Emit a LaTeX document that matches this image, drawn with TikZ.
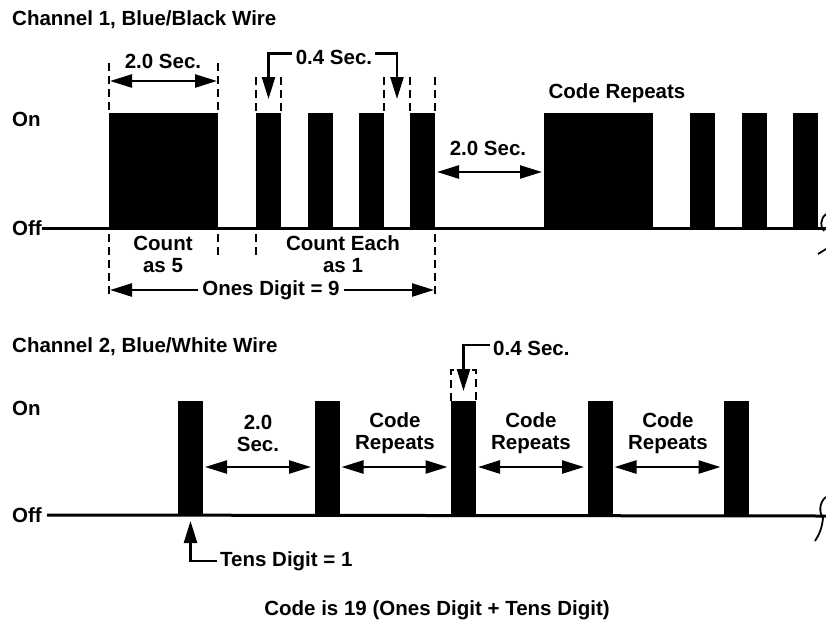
\documentclass[tikz,border=0pt]{standalone}
\usepackage{fontspec}
\setmainfont{Liberation Sans}
\usetikzlibrary{arrows.meta,positioning}

\newcommand{\lblfont}{\fontsize{20.5}{22}\selectfont\bfseries}

\begin{document}
\begin{tikzpicture}[x=1pt, y=-1pt,
  lbl/.style={font=\lblfont, inner sep=0pt, align=center},
  dim/.style={line width=2.4pt, {Triangle[length=22pt,width=13pt]}-{Triangle[length=22pt,width=13pt]}},
  ptr/.style={line width=2.4pt, -{Triangle[length=22pt,width=13pt]}},
  guide/.style={line width=2pt, dash pattern=on 8pt off 5pt},
  wire/.style={line width=3pt},
  brk/.style={line width=1.8pt}]
  \useasboundingbox (0,0) rectangle (826,622);

  %% Channel 1 titles and levels
  \node[lbl, anchor=west] (ch1) at (12,20) {Channel 1, Blue/Black Wire};
  \node[lbl, anchor=west] (on1) at (12,119) {On};
  \node[lbl, anchor=west] (off1) at (12,228) {Off};
  \coordinate (end1) at (826,228);
  \draw[wire] (off1.east) -- (end1);

  %% Channel 1 pulses (long = 5, short = 1 each)
  \fill (109,113) rectangle (218,228);
  \foreach \x in {256,307.5,359,410} {
    \fill (\x,113) rectangle ++(25,115);
  }
  \fill (544,113) rectangle (653,228);
  \foreach \x in {690,742,793} {
    \fill (\x,113) rectangle ++(25,115);
  }

  %% Dashed guides
  \foreach \x in {109,218} {
    \draw[guide] (\x,63) -- (\x,113);
  }
  \foreach \x in {256,281,384,410,435} {
    \draw[guide] (\x,77) -- (\x,113);
  }
  \foreach \x/\y in {109/298,218/258,256/258,435/298} {
    \draw[guide] (\x,234) -- (\x,\y);
  }

  %% 2.0 Sec. over the long pulse
  \node[lbl] (sec20a) at (163,61) {2.0 Sec.};
  \coordinate (l20a) at (110,81);
  \coordinate (r20a) at (217,81);
  \draw[dim] (l20a) -- (r20a);

  %% 0.4 Sec. bracket
  \node[lbl] (sec04a) at (334,57) {0.4 Sec.};
  \coordinate (tipa) at (268.5,99);
  \coordinate (tipb) at (397,99);
  \draw[ptr] ([xshift=-4pt,yshift=3.5pt]sec04a.west) -| (tipa);
  \draw[ptr] ([xshift=3pt,yshift=3.5pt]sec04a.east) -| (tipb);

  %% Gap before repeat
  \node[lbl] (sec20b) at (488,148) {2.0 Sec.};
  \coordinate (l20b) at (437,172);
  \coordinate (r20b) at (542,172);
  \draw[dim] (l20b) -- (r20b);
  \node[lbl] (rep1) at (617,93) {Code Repeats};

  %% Counting labels
  \node[lbl] (cnt5) at (163,254) {Count\\as 5};
  \node[lbl] (cnt1) at (343,254) {Count Each\\as 1};
  \node[lbl] (ones) at (271,290) {Ones Digit = 9};
  \coordinate (onesL) at (110,290);
  \coordinate (onesR) at (434,290);
  \draw[ptr] ([xshift=-4pt]ones.west) -- (onesL);
  \draw[ptr] ([xshift=4pt]ones.east) -- (onesR);

  %% Break mark, channel 1
  \draw[brk] (826,214) .. controls (820,219) and (820,227) .. (824,231);
  \draw[brk] (818,254) -- (826,249);

  %% Channel 2 titles and levels
  \node[lbl, anchor=west] (ch2) at (12,347) {Channel 2, Blue/White Wire};
  \node[lbl, anchor=west] (on2) at (12,408) {On};
  \node[lbl, anchor=west] (off2) at (12,515) {Off};
  \coordinate (end2) at (826,516);
  \draw[wire] ([xshift=5pt]off2.east) -- (end2);

  %% Channel 2 pulses
  \foreach \x in {178,314.5,451,587.5,724} {
    \fill (\x,401) rectangle ++(25,115);
  }

  %% Spacing arrows between pulses
  \foreach \i/\x in {1/178,2/314.5,3/451,4/587.5} {
    \coordinate (gl\i) at (\x+27,467);
    \coordinate (gr\i) at (\x+133,467);
    \draw[dim] (gl\i) -- (gr\i);
  }
  \node[lbl] (sec20c) at (258,433) {2.0\\Sec.};
  \node[lbl] (rep2) at (395,433) {Code\\Repeats};
  \node[lbl] (rep3) at (531,433) {Code\\Repeats};
  \node[lbl] (rep4) at (668,433) {Code\\Repeats};

  %% 0.4 Sec. on channel 2
  \draw[guide] (451,401) -- (451,370) -- (476,370) -- (476,401);
  \node[lbl, anchor=west] (sec04b) at (493,348) {0.4 Sec.};
  \coordinate (tipc) at (463.5,391);
  \draw[ptr] ([xshift=-3pt,yshift=3pt]sec04b.west) -| (tipc);

  %% Tens digit
  \node[lbl, anchor=west] (tens) at (220,561) {Tens Digit = 1};
  \coordinate (tipd) at (190.5,521);
  \draw[ptr] ([xshift=-3pt]tens.west) -| (tipd);

  %% Break mark, channel 2
  \draw[brk] (826,497) .. controls (819,502) and (819,513) .. (823,518)
    .. controls (822,528) and (819,535) .. (815,541);

  %% Result
  \node[lbl] (code) at (437,610) {Code is 19 (Ones Digit + Tens Digit)};
\end{tikzpicture}
\end{document}
